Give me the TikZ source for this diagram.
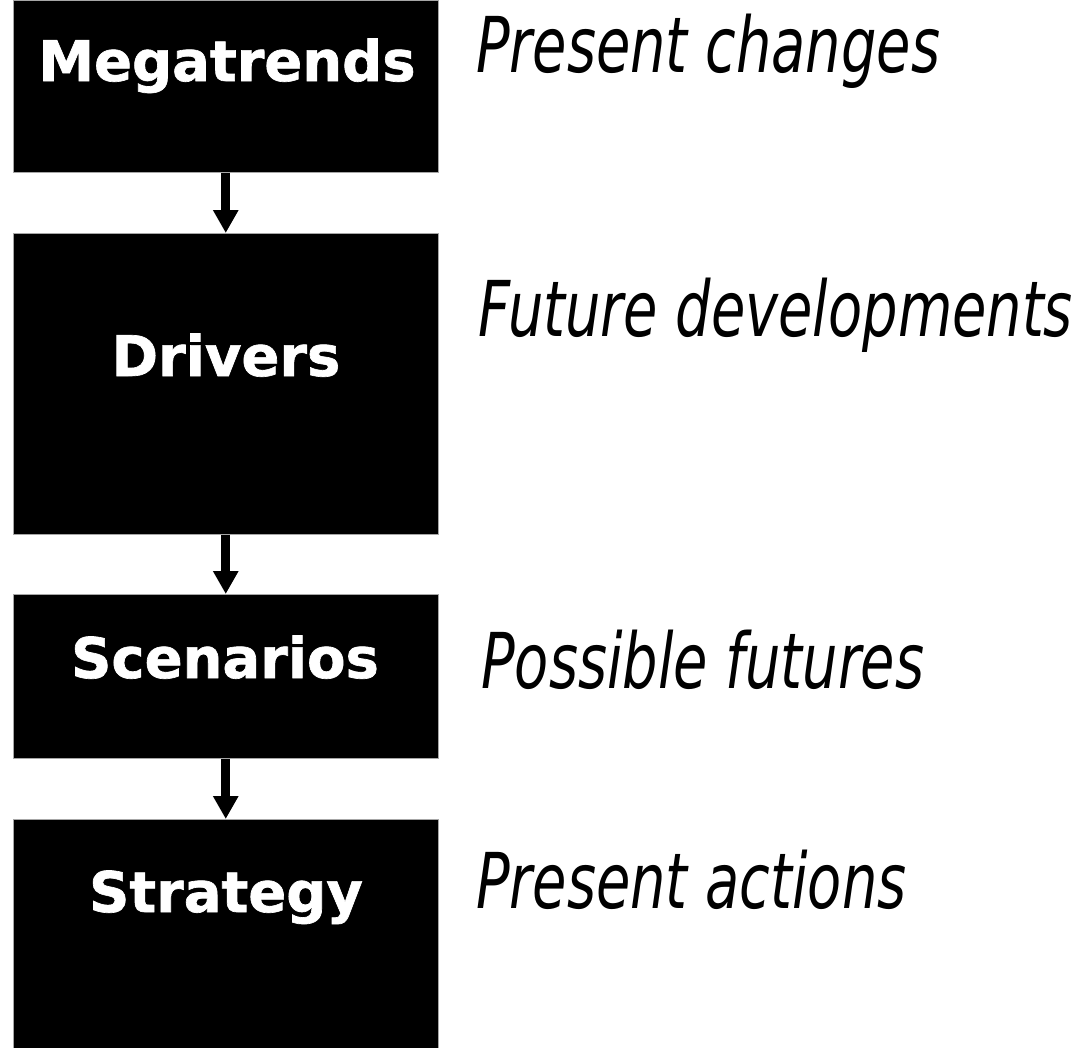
\documentclass[tikz,border=0pt]{standalone}
\usepackage{fontspec}
\setmainfont{DejaVu Sans}
\newfontfamily\heavyfont{DejaVu Sans Bold}[FakeBold=1.2]
\usetikzlibrary{arrows.meta}
\tikzset{
  box/.style={rectangle, fill=black, draw=gray!70, line width=0.8pt, inner sep=0pt, anchor=north west},
  boxtext/.style={text=white, anchor=base, inner sep=0pt, font=\fontsize{56}{60}\heavyfont},
  note/.style={anchor=base west, inner sep=0pt, font=\fontsize{77}{80}\selectfont\itshape},
  flow/.style={line width=8.7pt, -{Triangle[width=24pt,length=23pt]}},
}
\newcommand{\narrow}[1]{\scalebox{0.725}[1]{#1}}
\begin{document}
\begin{tikzpicture}[x=1pt,y=-1pt]
\useasboundingbox (0,0) rectangle (1089,1047);
\node[box, minimum width=425.3pt, minimum height=172pt] (m) at (12.7,0) {};
\node[box, minimum width=425.3pt, minimum height=301pt] (d) at (12.7,233) {};
\node[box, minimum width=425.3pt, minimum height=164pt] (sc) at (12.7,594) {};
\node[box, minimum width=425.3pt, minimum height=230pt] (st) at (12.7,819) {};
\node[boxtext] (mt) at (227,81) {Megatrends};
\node[boxtext] (dt) at (226,376) {Drivers};
\node[boxtext] (sct) at (225,678) {Scenarios};
\node[boxtext] (stt) at (226,912) {Strategy};
\draw[flow] (m.south) -- (d.north);
\draw[flow] (d.south) -- (sc.north);
\draw[flow] (sc.south) -- (st.north);
\node[note] (n1) at (476,72) {\narrow{Present changes}};
\node[note] (n2) at (478,336) {\narrow{Future developments}};
\node[note] (n3) at (481,688) {\narrow{Possible futures}};
\node[note] (n4) at (476,908) {\narrow{Present actions}};
\end{tikzpicture}
\end{document}
